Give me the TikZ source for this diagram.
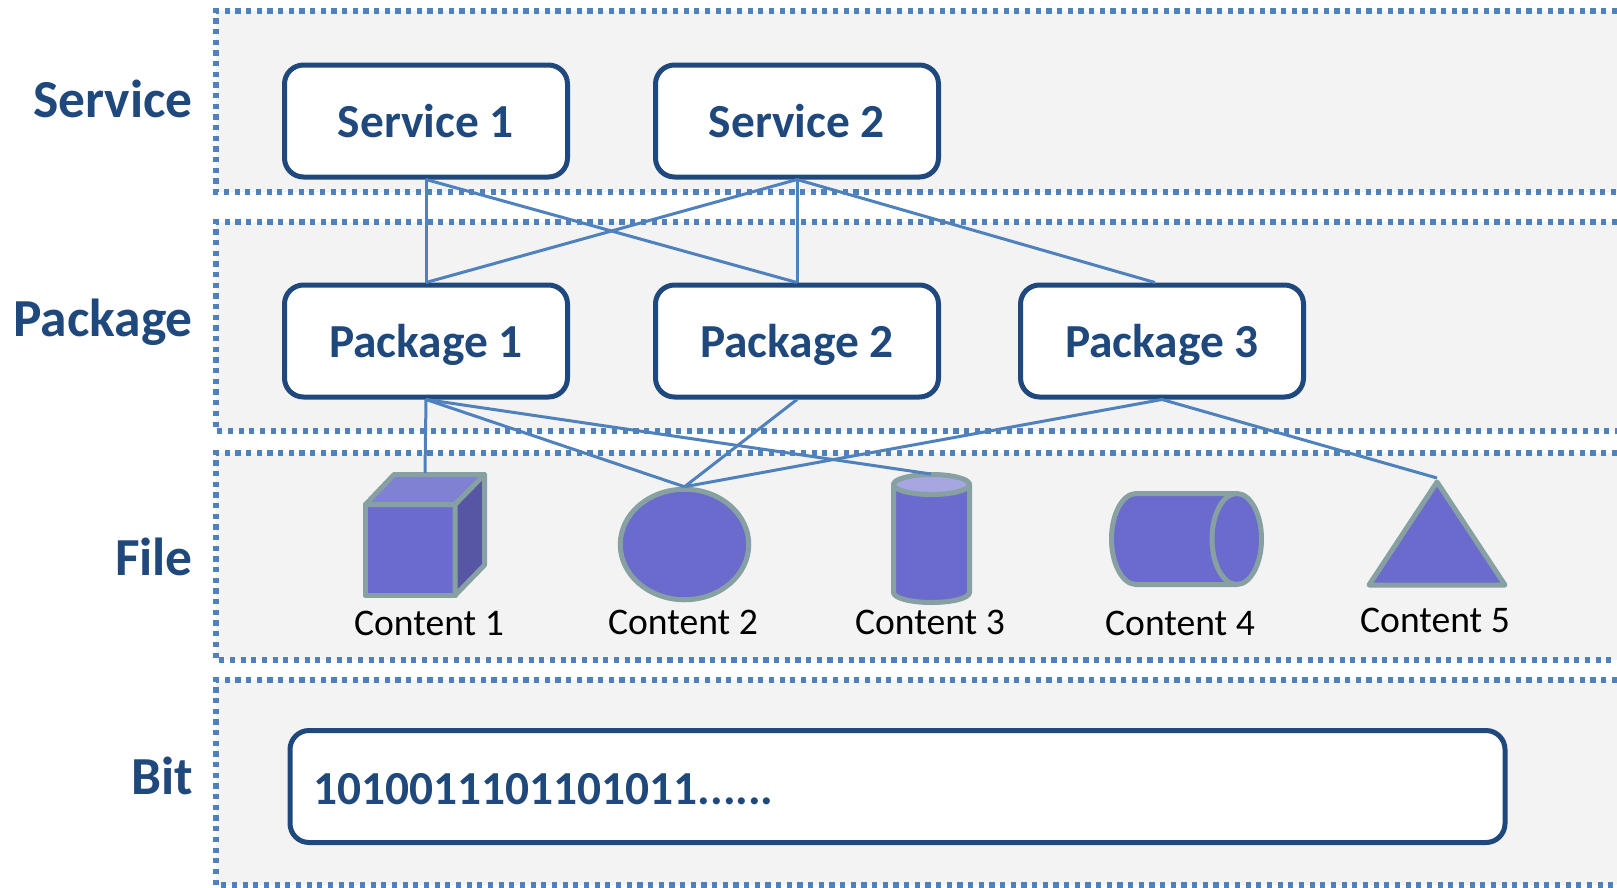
\documentclass[tikz,border=0pt]{standalone}
\usepackage{fontspec}
\setmainfont{Carlito}
\usetikzlibrary{positioning, shapes.geometric}
\definecolor{navytext}{HTML}{1F497D}
\definecolor{linkblue}{HTML}{4F81BD}
\definecolor{bandgray}{HTML}{F3F3F3}
\definecolor{solidfill}{HTML}{6B6BCD}
\definecolor{solidedge}{HTML}{87A0A2}

\begin{document}
\begin{tikzpicture}[
		x=1pt, y=-1pt,
		band/.style={draw=linkblue, line width=5.2pt, dash pattern=on 5.2pt off 5.47pt},
		level/.style={anchor=base east, inner sep=0pt, text=navytext, font=\fontsize{53.5}{56}\selectfont\bfseries},
		unit/.style={rectangle, draw=navytext, fill=white, line width=5pt, rounded corners=19pt, minimum width=283pt, minimum height=112pt, text height=32pt, text depth=0pt, text=navytext, font=\fontsize{47.4}{50}\selectfont\bfseries},
		solidbody/.style={draw=solidedge, fill=solidfill, line width=5pt, line join=round, inner sep=0pt},
		content/.style={inner sep=0pt, text=black, font=\fontsize{37.6}{40}\selectfont},
		link/.style={draw=linkblue, line width=3pt}
		]
		
		\useasboundingbox (0,0) rectangle (1617,887);
		
		% Bands (open at the right edge)
		\foreach \top/\bottom in {11/192, 222/431, 453/660, 680/885} {
			\fill[bandgray] (216,\top) rectangle (1617,\bottom);
			\draw[band] (1617,\top) -- (216,\top) -- (216,\bottom) -- (1617,\bottom);
		}
		
		% Level names
		\node[level] (lvl_service) at (193, 117.5) {Service};
		\node[level] (lvl_package) at (193, 336) {Package};
		\node[level] (lvl_file) at (193, 575.5) {File};
		\node[level] (lvl_bit) at (193, 794) {Bit};
		
		% Services
		\node[unit] (svc1) at (426, 121) {Service 1};
		\node[unit] (svc2) at (797, 121) {Service 2};
		
		% Packages
		\node[unit] (pkg1) at (426, 341) {Package 1};
		\node[unit] (pkg2) at (797, 341) {Package 2};
		\node[unit] (pkg3) at (1162, 341) {Package 3};
		
		% Cube
		\node[solidbody, rectangle, minimum width=90pt, minimum height=91pt] (cube) at (410, 550) {};
		\fill[solidfill!85!white, draw=solidedge, line width=5pt, line join=round] (365.5,504.5) -- (394,474.5) -- (484.5,474.5) -- (455,504.5) -- cycle;
		\fill[solidfill!80!black, draw=solidedge, line width=5pt, line join=round] (455,504.5) -- (484.5,474.5) -- (484.5,565) -- (455,595.5) -- cycle;
		\coordinate (cube_top) at (425, 473);
		
		% Ellipse
		\node[solidbody, ellipse, minimum width=128.5pt, minimum height=110.5pt] (disc) at (684.5, 544.5) {};
		
		% Standing cylinder
		\coordinate (drum_top) at (931, 474);
		\draw[solidbody] (893.5,484.5) -- (893.5,592.5) arc[start angle=180, end angle=360, x radius=38pt, y radius=10pt] -- (969.5,484.5) -- cycle;
		\draw[solidbody, fill=solidfill!60!white] (931.5,484.5) ellipse[x radius=38pt, y radius=10pt];
		
		% Lying cylinder
		\draw[solidbody] (1236.75,493.5) -- (1136.25,493.5) arc[start angle=90, end angle=270, x radius=24.75pt, y radius=45.5pt] -- (1236.75,584.5) -- cycle;
		\draw[solidbody] (1236.75,539) ellipse[x radius=24.75pt, y radius=45.5pt];
		
		% Triangle
		\coordinate (tri_top) at (1437, 478);
		\fill[solidfill, draw=solidedge, line width=5pt, line join=round] (1437,482) -- (1505,585) -- (1369,585) -- cycle;
		
		% Content names
		\node[content] (cnt1) at (429, 623) {Content 1};
		\node[content] (cnt2) at (683, 622) {Content 2};
		\node[content] (cnt3) at (930, 622) {Content 3};
		\node[content] (cnt4) at (1180, 623) {Content 4};
		\node[content] (cnt5) at (1435, 620) {Content 5};
		
		% Bit string
		\node[unit, minimum width=1215pt, minimum height=112pt] (bits) at (897.5, 786.5) {};
		\node[inner sep=0pt, anchor=west, text=navytext, font=\fontsize{47.4}{50}\selectfont\bfseries] (bits_text) at (313, 789) {1010011101101011......};
		
		% Services to packages
		\draw[link] (svc1.south) -- (pkg1.north);
		\draw[link] (svc1.south) -- (pkg2.north);
		\draw[link] (svc2.south) -- (pkg1.north);
		\draw[link] (svc2.south) -- (pkg2.north);
		\draw[link] (svc2.south) -- ([xshift=-7pt]pkg3.north);
		
		% Packages to contents
		\draw[link] (pkg1.south) -- (cube_top);
		\draw[link] (pkg1.south) -- (disc.north);
		\draw[link] (pkg1.south) -- (drum_top);
		\draw[link] (pkg2.south) -- (disc.north);
		\draw[link] (pkg3.south) -- (disc.north);
		\draw[link] (pkg3.south) -- (tri_top);
		
	\end{tikzpicture}
\end{document}
